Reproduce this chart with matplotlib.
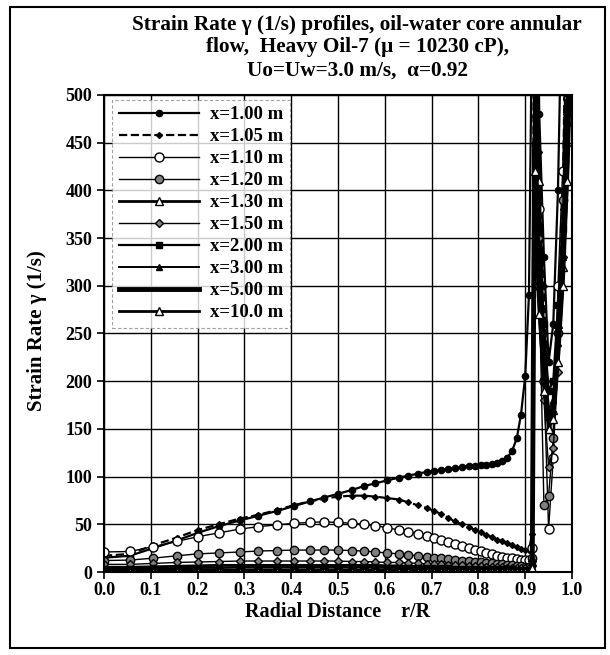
import matplotlib
matplotlib.use("Agg")
from matplotlib import pyplot as plt
from matplotlib.patches import Rectangle

plt.rcParams['font.family'] = ['Liberation Serif', 'DejaVu Serif']
plt.rcParams['font.weight'] = 'bold'

# radial positions r/R (core grid then water annulus)
r = [0.000, 0.055, 0.105, 0.155, 0.200, 0.245, 0.290, 0.330, 0.370, 0.405,
     0.440, 0.470, 0.500, 0.530, 0.555, 0.580, 0.605, 0.630, 0.650, 0.670,
     0.690, 0.705, 0.720, 0.735, 0.750, 0.765, 0.780, 0.793, 0.805, 0.817,
     0.829, 0.840, 0.851, 0.862, 0.872, 0.882, 0.891, 0.900, 0.908, 0.915,
     0.920, 0.930, 0.940, 0.950, 0.960, 0.970, 0.980, 0.990, 1.000]

g_100 = [15, 17, 25, 33, 41, 48, 54, 59, 64, 69, 74, 78, 82, 86, 90, 93, 96, 99, 101, 103,
         105, 106, 107, 108, 109, 110, 111, 111, 112, 112, 113, 114, 116, 120, 127, 140, 165, 205, 290, 600,
         900, 480, 330, 220, 260, 400, 650, 470, 900]
g_105 = [17, 19, 28, 36, 44, 50, 56, 60, 65, 70, 74, 77, 79, 80, 80, 79, 77.5, 76, 73, 70,
         67, 64, 61, 57, 53, 50, 47, 44, 41.5, 39, 36.5, 34, 32, 30, 28, 26, 24, 23, 23, 40,
         800, 440, 300, 160, 140, 260, 380, 700, 900]
g_110 = [21, 21.5, 26.5, 32, 37, 41, 45, 47.5, 49.5, 51, 52, 52.5, 52, 51, 50, 48.5, 46.5, 44, 42, 40,
         37.5, 35.5, 33.5, 31, 29, 27, 25, 23.5, 21.5, 20, 18.5, 17, 16, 15, 14.5, 13.5, 13, 12.5, 12.5, 25,
         700, 380, 200, 45, 120, 300, 420, 600, 800]
g_120 = [12, 12.5, 14.5, 17, 19, 20, 21, 22, 22.5, 23, 23, 23, 23, 22.5, 22, 21, 20, 19, 18, 17,
         16, 15, 14.5, 13.5, 13, 12, 11.5, 11, 10, 9.5, 9, 8.5, 8, 7.5, 7, 6.5, 6, 5.5, 5.5, 15,
         650, 300, 70, 80, 140, 250, 390, 550, 750]
g_130 = [5, 5, 5.5, 6, 6.5, 7, 7, 7, 7, 7, 7, 7, 7, 7, 7, 7, 6.5, 6.5, 6, 6,
         5.5, 5.5, 5, 5, 5, 4.5, 4.5, 4, 4, 4, 3.5, 3.5, 3.5, 3, 3, 3, 3, 3, 3, 10,
         600, 410, 230, 150, 170, 260, 320, 500, 700]
g_150 = [8, 8, 9, 10, 10.5, 11, 11.5, 11.5, 11.5, 11.5, 11.5, 11.5, 11.5, 11, 11, 10.5, 10, 10, 9.5, 9,
         8.5, 8.5, 8, 7.5, 7, 7, 6.5, 6, 6, 5.5, 5.5, 5, 5, 4.5, 4.5, 4, 4, 4, 4, 12,
         560, 350, 180, 110, 130, 210, 330, 480, 650]
g_200 = [3.5, 3.5, 4, 4, 4.5, 4.5, 5, 5, 5, 5, 5, 5, 5, 5, 5, 5, 4.5, 4.5, 4.5, 4.5,
         4, 4, 4, 4, 3.5, 3.5, 3.5, 3.5, 3, 3, 3, 3, 3, 3, 3, 2.5, 2.5, 2.5, 2.5, 8,
         520, 320, 260, 190, 200, 280, 360, 520, 700]
g_300 = [2, 2, 2, 2, 2.5, 2.5, 2.5, 2.5, 2.5, 2.5, 2.5, 2.5, 2.5, 2.5, 2.5, 2.5, 2.5, 2.5, 2.5, 2.5,
         2, 2, 2, 2, 2, 2, 2, 2, 2, 2, 2, 2, 2, 2, 2, 2, 2, 2, 2, 6,
         480, 300, 220, 170, 180, 240, 330, 450, 650]
g_500 = [1, 1, 1, 1, 1, 1, 1, 1, 1, 1, 1, 1, 1, 1, 1, 1, 1, 1, 1, 1,
         1, 1, 1, 1, 1, 1, 1, 1, 1, 1, 1, 1, 1, 1, 1, 1, 1, 1, 1, 5,
         450, 290, 210, 160, 170, 230, 310, 430, 620]
g_1000 = [0.5, 0.5, 0.5, 0.5, 0.5, 0.5, 0.5, 0.5, 0.5, 0.5, 0.5, 0.5, 0.5, 0.5, 0.5, 0.5, 0.5, 0.5, 0.5, 0.5,
          0.5, 0.5, 0.5, 0.5, 0.5, 0.5, 0.5, 0.5, 0.5, 0.5, 0.5, 0.5, 0.5, 0.5, 0.5, 0.5, 0.5, 0.5, 0.5, 4,
          420, 270, 190, 150, 160, 220, 300, 410, 600]

labels = ['x=1.00 m', 'x=1.05 m', 'x=1.10 m', 'x=1.20 m', 'x=1.30 m',
          'x=1.50 m', 'x=2.00 m', 'x=3.00 m', 'x=5.00 m', 'x=10.0 m']
series = [g_100, g_105, g_110, g_120, g_130, g_150, g_200, g_300, g_500, g_1000]

# line style, line width, marker, marker size, marker face colour
styles = [
    ('-', 1.6, 'o', 4.5, 'black'),
    ('--', 1.6, 'D', 3.0, 'black'),
    ('-', 1.0, 'o', 6.5, 'white'),
    ('-', 1.0, 'o', 6.0, '#808080'),
    ('-', 2.0, '^', 5.5, 'white'),
    ('-', 1.0, 'D', 4.0, '#808080'),
    ('-', 1.6, 's', 5.0, 'black'),
    ('-', 1.4, '^', 5.0, 'black'),
    ('-', 3.5, '', 0, 'black'),
    ('-', 2.0, '^', 5.5, 'white'),
]

fig = plt.figure(figsize=(6.1, 6.55), dpi=100)
ax = fig.add_axes([0.1705, 0.1267, 0.7672, 0.7283])

for g, lab, (ls, lw, mk, ms, fc) in zip(series, labels, styles):
    ax.plot(r, g, color='black', linestyle=ls, linewidth=lw, marker=mk,
            markersize=ms, markerfacecolor=fc, markeredgecolor='black',
            markeredgewidth=1.0, label=lab, clip_on=True)

ax.set_xlim(0, 1.0)
ax.set_ylim(0, 500)
ax.set_xticks([0.0, 0.1, 0.2, 0.3, 0.4, 0.5, 0.6, 0.7, 0.8, 0.9, 1.0])
ax.set_yticks(range(0, 501, 50))
ax.set_xticklabels(['0.0', '0.1', '0.2', '0.3', '0.4', '0.5', '0.6', '0.7', '0.8', '0.9', '1.0'])
ax.tick_params(labelsize=13, direction='out', length=5, width=1.2, colors='black')
ax.tick_params(axis='x', pad=2)
for lbl in ax.get_xticklabels() + ax.get_yticklabels():
    lbl.set_fontweight('bold')
ax.grid(True, color='black', linewidth=1.0)
for s in ax.spines.values():
    s.set_linewidth(1.5)

fig.text(338 / 610, 1 - 612 / 655, 'Radial Distance    r/R', ha='center', va='center',
         fontsize=14.5, fontweight='bold')
fig.text(37 / 610, 1 - 331 / 655, 'Strain Rate γ (1/s)', ha='center', va='center',
         rotation=90, fontsize=15, fontweight='bold')

leg = ax.legend(loc='upper left', bbox_to_anchor=(0.017, 0.99), fontsize=13.5,
                handlelength=4.3, borderpad=0.35, labelspacing=0.26,
                handletextpad=0.6, frameon=True, fancybox=False, borderaxespad=0.0)
leg.get_frame().set_edgecolor('#888888')
leg.get_frame().set_linestyle((0, (3, 2)))
leg.get_frame().set_linewidth(0.8)
for t in leg.get_texts():
    t.set_fontweight('bold')

fig.text(357 / 610, 1 - 25 / 655, 'Strain Rate γ (1/s) profiles, oil-water core annular',
         ha='center', va='center', fontsize=15.3, fontweight='bold')
fig.text(357 / 610, 1 - 47 / 655, 'flow,  Heavy Oil-7 (μ = 10230 cP),',
         ha='center', va='center', fontsize=15.3, fontweight='bold')
fig.text(357 / 610, 1 - 71 / 655, 'Uo=Uw=3.0 m/s,  α=0.92',
         ha='center', va='center', fontsize=15.3, fontweight='bold')

# outer frame round the whole chart
fig.patches.append(Rectangle((10 / 610, 7 / 655), 595 / 610, 641 / 655,
                             transform=fig.transFigure, fill=False,
                             edgecolor='black', linewidth=1.5))

fig.savefig('out.png', dpi=100)
